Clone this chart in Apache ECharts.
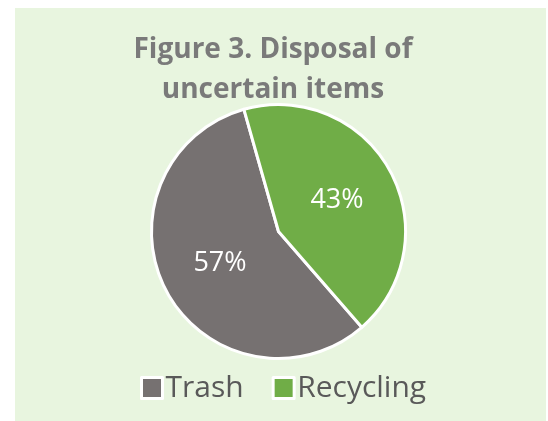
<!DOCTYPE html>
<html>
<head>
<meta charset="utf-8">
<script src="https://cdn.jsdelivr.net/npm/echarts@6/dist/echarts.min.js"></script>
<style>
html,body{margin:0;padding:0;background:#fff;}
#c{width:548px;height:421px;}
</style>
</head>
<body>
<div id="c"></div>
<script>
const categories = ['Trash', 'Recycling'];
const values = [57, 43];
const colors = ['#767171', '#70AD47'];
const titleText = 'Figure 3. Disposal of\nuncertain items';

const chart = echarts.init(document.getElementById('c'), null, {renderer: 'canvas'});
chart.setOption({
  backgroundColor: '#ffffff',
  animation: false,
  graphic: [{
    type: 'rect', z: -10, silent: true,
    shape: {x: 15, y: 8, width: 531, height: 413},
    style: {fill: '#E8F5DF'}
  }],
  title: {
    text: titleText,
    left: 268, top: 25, textAlign: 'center',
    textStyle: {fontFamily: 'Open Sans', fontWeight: 'bold', fontSize: 28, lineHeight: 40, color: '#7A7A7A'}
  },
  legend: {
    data: categories,
    left: 135, top: 368,
    icon: 'rect', itemWidth: 21, itemHeight: 21, itemGap: 28,
    itemStyle: {borderColor: '#ffffff', borderWidth: 3},
    textStyle: {fontFamily: 'Open Sans', fontSize: 30, color: '#595959', padding: [0,0,0,-2]}
  },
  series: [{
    type: 'pie',
    center: [278.5, 231.5],
    radius: [0, 127],
    startAngle: -49,
    clockwise: true,
    data: categories.map((n, i) => ({name: n, value: values[i], itemStyle: {color: colors[i]}})),
    itemStyle: {borderColor: '#ffffff', borderWidth: 3},
    label: {
      show: true, position: 'inside',
      formatter: p => p.value + '%',
      fontFamily: 'Open Sans', fontSize: 27, color: '#ffffff'
    },
    labelLine: {show: false},
    emphasis: {disabled: true}
  }]
});
</script>
</body>
</html>
